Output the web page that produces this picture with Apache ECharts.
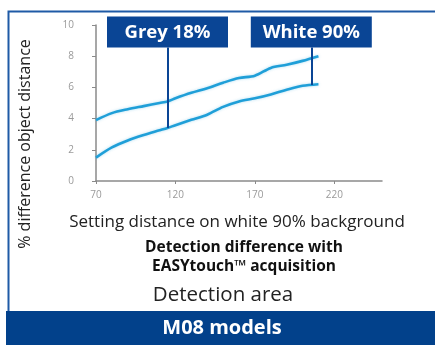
<!DOCTYPE html>
<html>
<head>
<meta charset="utf-8">
<script src="https://cdn.jsdelivr.net/npm/echarts@6/dist/echarts.min.js"></script>
<style>
  html, body { margin: 0; padding: 0; background: #fff; }
  #chart { width: 435px; height: 345px; }
</style>
</head>
<body>
<div id="chart"></div>
<script>
// Setting distance (x) and % difference of object distance for the two targets
const distances = [70, 80, 90, 100, 110, 115, 120, 130, 140, 150, 160, 170, 180, 190, 200, 210];
const upperCurve = [3.9, 4.35, 4.6, 4.8, 5.0, 5.1, 5.3, 5.65, 5.95, 6.3, 6.6, 6.75, 7.25, 7.45, 7.7, 8.0];
const lowerCurve = [1.5, 2.15, 2.6, 2.95, 3.25, 3.4, 3.58, 3.92, 4.25, 4.75, 5.1, 5.3, 5.55, 5.85, 6.1, 6.2];

// Callout labels and where their leader lines land on the curve
const calloutNames = ['Grey 18%', 'White 90%'];
const calloutX = [115, 205.5];
const calloutY = [3.4, 6.15];
const calloutTop = 8.55;

const xTicks = [70, 120, 170, 220];
const yTicks = [0, 2, 4, 6, 8, 10];

const DARK_BLUE = '#0a4595';
const LINE_BLUE = '#1f9fd8';
const FONT = '"Open Sans", "Noto Sans", sans-serif';

const chart = echarts.init(document.getElementById('chart'));

const toPairs = (xs, ys) => xs.map((x, i) => [x, ys[i]]);

const leaderLines = calloutX.map((x, i) => [
  { coord: [x, calloutY[i]] },
  { coord: [x, calloutTop] }
]);

const staticGraphics = [
  { type: 'rect', left: 6, top: 9, z: -1,
    shape: { width: 460, height: 310 },
    style: { fill: 'none', stroke: '#1f5aa6', lineWidth: 2 } },
  { type: 'rect', left: 6, top: 311,
    shape: { width: 429, height: 34 },
    style: { fill: '#02418b' } },
  { type: 'text', x: 222, y: 328,
    style: { text: 'M08 models', fill: '#fff', font: 'bold 20px ' + FONT,
      align: 'center', verticalAlign: 'middle' } },
  { type: 'text', x: 25, y: 144, rotation: Math.PI / 2,
    style: { text: '% difference object distance', fill: '#222', font: '16px ' + FONT,
      align: 'center', verticalAlign: 'middle' } },
  { type: 'text', x: 237, y: 222,
    style: { text: 'Setting distance on white 90% background', fill: '#222', font: '17px ' + FONT,
      align: 'center', verticalAlign: 'middle' } },
  { type: 'text', x: 244, y: 248,
    style: { text: 'Detection difference with', fill: '#111', font: 'bold 15.5px ' + FONT,
      align: 'center', verticalAlign: 'middle' } },
  { type: 'text', x: 244, y: 267,
    style: { text: 'EASYtouch\u2122 acquisition', fill: '#111', font: 'bold 15.5px ' + FONT,
      align: 'center', verticalAlign: 'middle' } },
  { type: 'text', x: 223, y: 295,
    style: { text: 'Detection area', fill: '#222', font: '20.5px ' + FONT,
      align: 'center', verticalAlign: 'middle' } }
];

chart.setOption({
  animation: false,
  backgroundColor: '#fff',
  grid: { left: 96, right: 53, top: 25, bottom: 164 },
  xAxis: {
    type: 'value',
    min: 70,
    max: 250,
    interval: 50,
    axisLine: { lineStyle: { color: '#8a8a8a', width: 1.5 } },
    axisTick: { show: true, length: 3, lineStyle: { color: '#8a8a8a' }, customValues: xTicks },
    axisLabel: { color: '#9a9a9a', fontSize: 10, fontFamily: FONT, margin: 9, customValues: xTicks },
    splitLine: { show: false }
  },
  yAxis: {
    type: 'value',
    min: 0,
    max: 10,
    interval: 2,
    axisLine: { show: true, lineStyle: { color: '#8a8a8a', width: 1.5 } },
    axisTick: { show: true, length: 4, lineStyle: { color: '#8a8a8a' } },
    axisLabel: { color: '#9a9a9a', fontSize: 10, fontFamily: FONT, margin: 22, customValues: yTicks },
    splitLine: { show: false }
  },
  series: [
    {
      type: 'line',
      data: toPairs(distances, upperCurve),
      smooth: 0.3,
      showSymbol: false,
      lineStyle: { color: LINE_BLUE, width: 2.6, shadowColor: 'rgba(31,159,216,0.35)', shadowBlur: 3 },
      z: 3
    },
    {
      type: 'line',
      data: toPairs(distances, lowerCurve),
      smooth: 0.3,
      showSymbol: false,
      lineStyle: { color: LINE_BLUE, width: 2.6, shadowColor: 'rgba(31,159,216,0.35)', shadowBlur: 3 },
      markLine: {
        silent: true,
        symbol: ['none', 'none'],
        label: { show: false },
        lineStyle: { color: DARK_BLUE, width: 2, type: 'solid', opacity: 1 },
        emphasis: { disabled: true },
        data: leaderLines
      },
      z: 4
    }
  ],
  graphic: staticGraphics
});

// Callout boxes placed at the top end of each leader line
const BOX_W = 121, BOX_H = 31;
const callouts = calloutNames.map((name, i) => {
  const [px, py] = chart.convertToPixel({ gridIndex: 0 }, [calloutX[i], calloutTop]);
  return {
    type: 'group',
    x: px, y: py,
    children: [
      { type: 'rect', shape: { x: -BOX_W / 2 + (i === 0 ? 0 : 0), y: -BOX_H, width: BOX_W, height: BOX_H },
        style: { fill: DARK_BLUE } },
      { type: 'text', x: 0, y: -BOX_H / 2 + 1,
        style: { text: name, fill: '#fff', font: 'bold 18.5px ' + FONT,
          align: 'center', verticalAlign: 'middle' } }
    ]
  };
});

chart.setOption({ graphic: staticGraphics.concat(callouts) });
</script>
</body>
</html>
